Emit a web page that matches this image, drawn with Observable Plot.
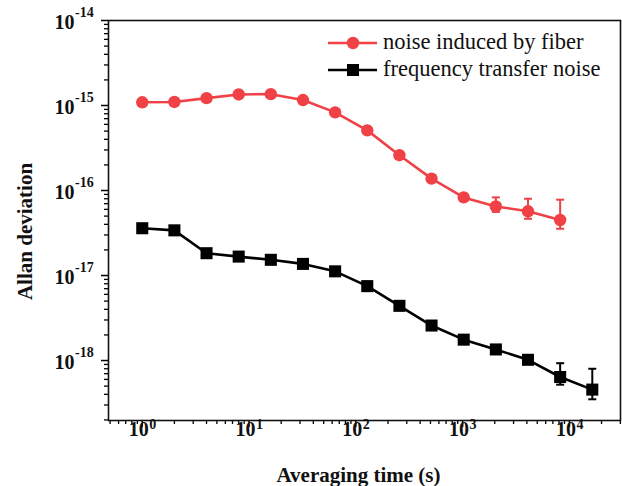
<!DOCTYPE html>
<html><head><meta charset="utf-8">
<script src="https://cdn.jsdelivr.net/npm/d3@7"></script>
<script src="https://cdn.jsdelivr.net/npm/@observablehq/plot@0.6"></script>
<style>body{margin:0;background:#fff} #c{position:relative;width:622px;height:486px}</style>
</head><body><div id="c"></div>
<script>
// ---- data ----
const tau = [1, 2, 4, 8, 16, 32, 64, 128, 256, 512, 1024, 2048, 4096, 8192, 16384];
const fiberNoise = [1.09e-15, 1.10e-15, 1.22e-15, 1.35e-15, 1.36e-15, 1.16e-15, 8.3e-16, 5.1e-16, 2.6e-16, 1.38e-16, 8.3e-17, 6.5e-17, 5.7e-17, 4.5e-17];
const transferNoise = [3.6e-17, 3.4e-17, 1.83e-17, 1.67e-17, 1.53e-17, 1.37e-17, 1.12e-17, 7.5e-18, 4.4e-18, 2.58e-18, 1.76e-18, 1.35e-18, 1.02e-18, 6.4e-19, 4.55e-19];
const fiberErrTau = [2048, 4096, 8192];
const fiberErrLo = [5.6e-17, 4.65e-17, 3.55e-17];
const fiberErrHi = [8.3e-17, 8.0e-17, 7.8e-17];
const transferErrTau = [8192, 16384];
const transferErrLo = [5.2e-19, 3.5e-19];
const transferErrHi = [9.3e-19, 8.0e-19];
const xTickExp = [0, 1, 2, 3, 4];
const yTickExp = [-18, -17, -16, -15, -14];
const seriesNames = ["noise induced by fiber", "frequency transfer noise"];
const seriesColors = ["#ef4146", "#000000"];

const xDomain = [0.483, 30100];
const yDomain = [1.97e-19, 1e-14];

const fiber = fiberNoise.map((v, i) => ({tau: tau[i], v}));
const transfer = transferNoise.map((v, i) => ({tau: tau[i], v}));
const fiberErr = fiberErrTau.map((t, i) => ({tau: t, lo: fiberErrLo[i], hi: fiberErrHi[i]}));
const transferErr = transferErrTau.map((t, i) => ({tau: t, lo: transferErrLo[i], hi: transferErrHi[i]}));
const caps = e => e.flatMap(d => [{tau: d.tau, v: d.lo}, {tau: d.tau, v: d.hi}]);

function minorTicks(kmin, kmax, dom) {
  const out = [];
  for (let k = kmin; k <= kmax; k++) for (let m = 2; m <= 9; m++) {
    const v = m * Math.pow(10, k);
    if (v >= dom[0] * 0.999 && v <= dom[1] * 1.001) out.push(v);
  }
  return out;
}
const minorX = minorTicks(-1, 4, xDomain);
const minorY = minorTicks(-19, -15, yDomain);

const capSymbol = {draw(ctx) { ctx.moveTo(-4, 0); ctx.lineTo(4, 0); }};
const serif = "'Liberation Serif', 'Times New Roman', serif";
const red = seriesColors[0], black = seriesColors[1];

const chart = Plot.plot({
  width: 622, height: 486,
  marginLeft: 108, marginRight: 2, marginTop: 20, marginBottom: 66,
  style: {fontFamily: serif, background: "#fff", overflow: "visible"},
  x: {type: "log", domain: xDomain},
  y: {type: "log", domain: yDomain},
  marks: [
    Plot.axisX({ticks: minorX, tickSize: 4, tickFormat: () => "", label: null, strokeWidth: 1.3}),
    Plot.axisX({ticks: xTickExp.map(d => 10 ** d), tickSize: 7, tickFormat: () => "", label: null, strokeWidth: 1.5}),
    Plot.axisY({ticks: minorY, tickSize: 4, tickFormat: () => "", label: null, strokeWidth: 1.3}),
    Plot.axisY({ticks: yTickExp.map(d => 10 ** d), tickSize: 7, tickFormat: () => "", label: null, strokeWidth: 1.5}),
    Plot.frame({stroke: "#111", strokeWidth: 1.6}),
    // tick labels 10^n
    Plot.text(xTickExp, {x: d => 10 ** d, frameAnchor: "bottom", text: () => "10", textAnchor: "end", lineAnchor: "bottom", dx: 6.5, dy: 15, fontSize: 20, fontWeight: "bold", fill: "#111"}),
    Plot.text(xTickExp, {x: d => 10 ** d, frameAnchor: "bottom", text: d => String(d), textAnchor: "start", lineAnchor: "bottom", dx: 7, dy: 8, fontSize: 14, fontWeight: "bold", fill: "#111"}),
    Plot.text(yTickExp, {y: d => 10 ** d, frameAnchor: "left", text: () => "10", textAnchor: "end", lineAnchor: "bottom", dx: -34, dy: 8.3, fontSize: 20, fontWeight: "bold", fill: "#111"}),
    Plot.text(yTickExp, {y: d => 10 ** d, frameAnchor: "left", text: d => String(d), textAnchor: "start", lineAnchor: "bottom", dx: -33.5, dy: -3.3, fontSize: 14, fontWeight: "bold", fill: "#111"}),
    // axis titles
    Plot.text(["Averaging time (s)"], {frameAnchor: "bottom", text: d => d, textAnchor: "middle", lineAnchor: "bottom", dx: -6, dy: 61, fontSize: 21, fontWeight: "bold", fill: "#111"}),
    Plot.text(["Allan deviation"], {frameAnchor: "left", text: d => d, textAnchor: "middle", rotate: -90, dx: -83.5, dy: 11, fontSize: 21, fontWeight: "bold", fill: "#111"}),
    // fiber series
    Plot.line(fiber, {x: "tau", y: "v", stroke: red, strokeWidth: 2.6}),
    Plot.ruleX(fiberErr, {x: "tau", y1: "lo", y2: "hi", stroke: red, strokeWidth: 2}),
    Plot.dot(caps(fiberErr), {x: "tau", y: "v", symbol: capSymbol, stroke: red, strokeWidth: 2, fill: "none"}),
    Plot.dot(fiber, {x: "tau", y: "v", r: 6.2, fill: red, stroke: "none"}),
    // transfer series
    Plot.line(transfer, {x: "tau", y: "v", stroke: black, strokeWidth: 2.6}),
    Plot.ruleX(transferErr, {x: "tau", y1: "lo", y2: "hi", stroke: black, strokeWidth: 2}),
    Plot.dot(caps(transferErr), {x: "tau", y: "v", symbol: capSymbol, stroke: black, strokeWidth: 2, fill: "none"}),
    Plot.dot(transfer, {x: "tau", y: "v", r: 6.8, symbol: "square", fill: black, stroke: "none"})
  ]
});
const c = document.getElementById("c");
c.appendChild(chart);

// legend overlay
const leg = d3.select(c).append("svg")
  .attr("width", 622).attr("height", 486)
  .style("position", "absolute").style("left", 0).style("top", 0).style("pointer-events", "none");
const rows = [43, 70];
seriesNames.forEach((name, i) => {
  const y = rows[i], col = seriesColors[i];
  leg.append("line").attr("x1", 328).attr("x2", 377).attr("y1", y).attr("y2", y)
    .attr("stroke", col).attr("stroke-width", 2.6);
  if (i === 0) leg.append("circle").attr("cx", 353).attr("cy", y).attr("r", 6.2).attr("fill", col);
  else leg.append("rect").attr("x", 347).attr("y", y - 6).attr("width", 12).attr("height", 12).attr("fill", col);
  leg.append("text").attr("x", 383).attr("y", y + 5.5).attr("font-family", serif)
    .attr("font-size", 22.5).attr("fill", "#111").text(name);
});
</script></body></html>
